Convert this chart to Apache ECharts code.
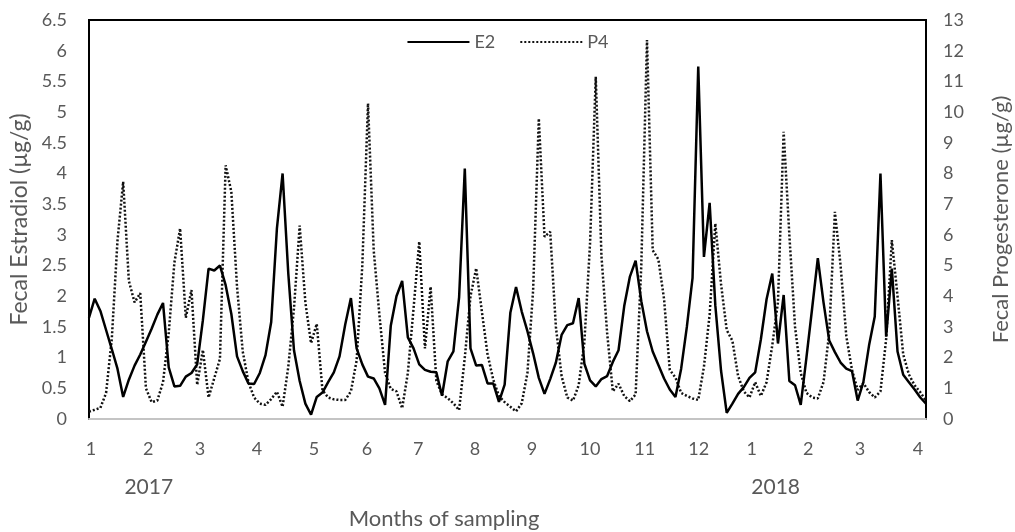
<!DOCTYPE html>
<html>
<head>
<meta charset="utf-8">
<script src="https://cdn.jsdelivr.net/npm/echarts@6/dist/echarts.min.js"></script>
<style>
  html, body { margin: 0; padding: 0; background: #fff; }
  #chart { width: 1015px; height: 532px; }
</style>
</head>
<body>
<div id="chart"></div>
<script>
// fecal estradiol (E2, ug/g), one value per sample
const e2 = [
  1.65, 1.96, 1.76, 1.45, 1.14, 0.82, 0.36, 0.64, 0.87, 1.05,
  1.26, 1.47, 1.70, 1.89, 0.84, 0.53, 0.54, 0.69, 0.75, 0.89,
  1.61, 2.45, 2.42, 2.50, 2.18, 1.71, 1.02, 0.78, 0.58, 0.57,
  0.75, 1.04, 1.58, 3.10, 4.00, 2.37, 1.12, 0.62, 0.25, 0.07,
  0.36, 0.43, 0.60, 0.76, 1.02, 1.54, 1.97, 1.15, 0.89, 0.69,
  0.66, 0.50, 0.23, 1.52, 2.00, 2.25, 1.33, 1.15, 0.89, 0.80,
  0.77, 0.76, 0.38, 0.94, 1.10, 1.98, 4.08, 1.15, 0.87, 0.88,
  0.58, 0.58, 0.28, 0.56, 1.73, 2.15, 1.75, 1.43, 1.07, 0.67,
  0.41, 0.65, 0.92, 1.37, 1.53, 1.56, 1.97, 0.90, 0.63, 0.53,
  0.65, 0.70, 0.93, 1.12, 1.84, 2.32, 2.58, 1.92, 1.43, 1.10,
  0.88, 0.66, 0.48, 0.36, 0.82, 1.50, 2.30, 5.74, 2.64, 3.52,
  1.85, 0.79, 0.10, 0.25, 0.41, 0.52, 0.67, 0.76, 1.30, 1.95,
  2.37, 1.23, 2.02, 0.62, 0.55, 0.23, 1.00, 1.80, 2.62, 1.90,
  1.28, 1.09, 0.92, 0.82, 0.78, 0.30, 0.60, 1.20, 1.67, 4.00,
  1.34, 2.45, 1.10, 0.72, 0.60, 0.48, 0.35, 0.25
]

// fecal progesterone (P4, ug/g), same samples
const p4 = [
  0.24, 0.30, 0.36, 0.85, 2.60, 5.80, 7.73, 4.50, 3.80, 4.10,
  1.00, 0.55, 0.60, 1.20, 2.80, 5.10, 6.21, 3.30, 4.20, 1.11,
  2.25, 0.70, 1.33, 1.96, 8.27, 7.40, 4.30, 2.20, 1.20, 0.70,
  0.50, 0.46, 0.65, 0.89, 0.40, 1.70, 3.60, 6.30, 3.80, 2.47,
  3.10, 0.94, 0.70, 0.64, 0.62, 0.62, 0.90, 1.90, 5.00, 10.28,
  5.50, 3.40, 1.50, 0.98, 0.90, 0.35, 1.50, 3.60, 5.78, 2.30,
  4.31, 1.25, 0.80, 0.68, 0.51, 0.29, 2.00, 4.00, 4.91, 3.50,
  2.10, 1.28, 0.75, 0.55, 0.40, 0.25, 0.51, 1.50, 4.20, 9.79,
  5.94, 6.10, 3.00, 1.40, 0.70, 0.60, 1.10, 2.50, 5.72, 11.15,
  5.30, 2.80, 0.90, 1.15, 0.75, 0.58, 0.80, 5.00, 12.35, 5.50,
  5.20, 3.90, 1.60, 1.35, 0.85, 0.75, 0.67, 0.62, 1.70, 3.40,
  6.37, 4.40, 2.90, 2.55, 1.40, 0.90, 0.70, 1.20, 0.75, 1.20,
  2.40, 3.80, 9.36, 6.00, 3.00, 1.50, 0.85, 0.70, 0.67, 1.20,
  2.80, 6.75, 5.00, 2.70, 1.60, 0.95, 1.17, 0.88, 0.70, 0.90,
  2.60, 5.83, 4.00, 2.10, 1.45, 1.10, 0.87, 0.60
]

// month labels and where they fall along the sample index
const monthLabels = ['1', '2', '3', '4', '5', '6', '7', '8', '9', '10', '11', '12', '1', '2', '3', '4']
const monthTicks = [0.35, 10.4, 19.5, 29.5, 39.5, 48.8, 57.8, 67.8, 77.8, 88.0, 97.6, 107.1, 116.4, 126.3, 135.4, 145.6]
const yearLabels = ['2017', '2018']
const yearTicks = [10.5, 120.6]

const grey = '#595959'
const font = 'Lato'

const chart = echarts.init(document.getElementById('chart'))
chart.setOption({
  animation: false,
  backgroundColor: '#fff',
  textStyle: { fontFamily: font },
  grid: {
    left: 89, right: 89, top: 20, bottom: 113,
    outerBoundsMode: 'none',
    show: true, borderColor: '#000', borderWidth: 2
  },
  legend: {
    data: ['E2', 'P4'],
    top: 28,
    left: 'center',
    itemWidth: 62,
    itemHeight: 14,
    itemGap: 24,
    itemStyle: { opacity: 0 },
    textStyle: { fontSize: 18, color: grey, fontFamily: font }
  },
  graphic: [{
    type: 'text',
    x: 444,
    y: 519,
    style: {
      text: 'Months of sampling',
      align: 'center',
      verticalAlign: 'middle',
      fontSize: 22,
      fontFamily: font,
      fill: grey
    }
  }],
  xAxis: [
    {
      type: 'value',
      min: 0,
      max: e2.length - 1,
      axisLine: { lineStyle: { color: '#c4c4c4', width: 2 } },
      axisTick: { show: false },
      splitLine: { show: false },
      axisLabel: {
        customValues: monthTicks,
        formatter: v => monthLabels[monthTicks.indexOf(v)],
        margin: 21,
        fontSize: 18,
        color: grey
      }
    },
    {
      type: 'value',
      min: 0,
      max: e2.length - 1,
      position: 'bottom',
      axisLine: { show: false },
      axisTick: { show: false },
      splitLine: { show: false },
      axisLabel: {
        customValues: yearTicks,
        formatter: v => yearLabels[yearTicks.indexOf(v)],
        margin: 58,
        fontSize: 21,
        color: grey
      }
    }
  ],
  yAxis: [
    {
      type: 'value',
      min: 0,
      max: 6.5,
      interval: 0.5,
      axisLine: { show: true, lineStyle: { color: '#000', width: 2 } },
      axisTick: { show: false },
      splitLine: { show: false },
      axisLabel: { fontSize: 18, color: grey, margin: 22 },
      name: 'Fecal Estradiol (µg/g)',
      nameLocation: 'middle',
      nameRotate: 90,
      nameGap: 57,
      nameTextStyle: { fontSize: 23, color: grey, fontFamily: font }
    },
    {
      type: 'value',
      min: 0,
      max: 13,
      interval: 1,
      position: 'right',
      axisLine: { show: true, lineStyle: { color: '#000', width: 2 } },
      axisTick: { show: false },
      splitLine: { show: false },
      axisLabel: { fontSize: 18, color: grey, margin: 17 },
      name: 'Fecal Progesterone (µg/g)',
      nameLocation: 'middle',
      nameRotate: 90,
      nameGap: 64,
      nameTextStyle: { fontSize: 22, color: grey, fontFamily: font }
    }
  ],
  series: [
    {
      name: 'P4',
      type: 'line',
      yAxisIndex: 1,
      symbol: 'none',
      data: p4.map((v, i) => [i, v]),
      lineStyle: { color: '#111', width: 2.5, type: [2, 2] },
      itemStyle: { color: '#111' }
    },
    {
      name: 'E2',
      type: 'line',
      yAxisIndex: 0,
      symbol: 'none',
      data: e2.map((v, i) => [i, v]),
      lineStyle: { color: '#000', width: 2.5 },
      itemStyle: { color: '#000' }
    }
  ]
})
</script>
</body>
</html>
